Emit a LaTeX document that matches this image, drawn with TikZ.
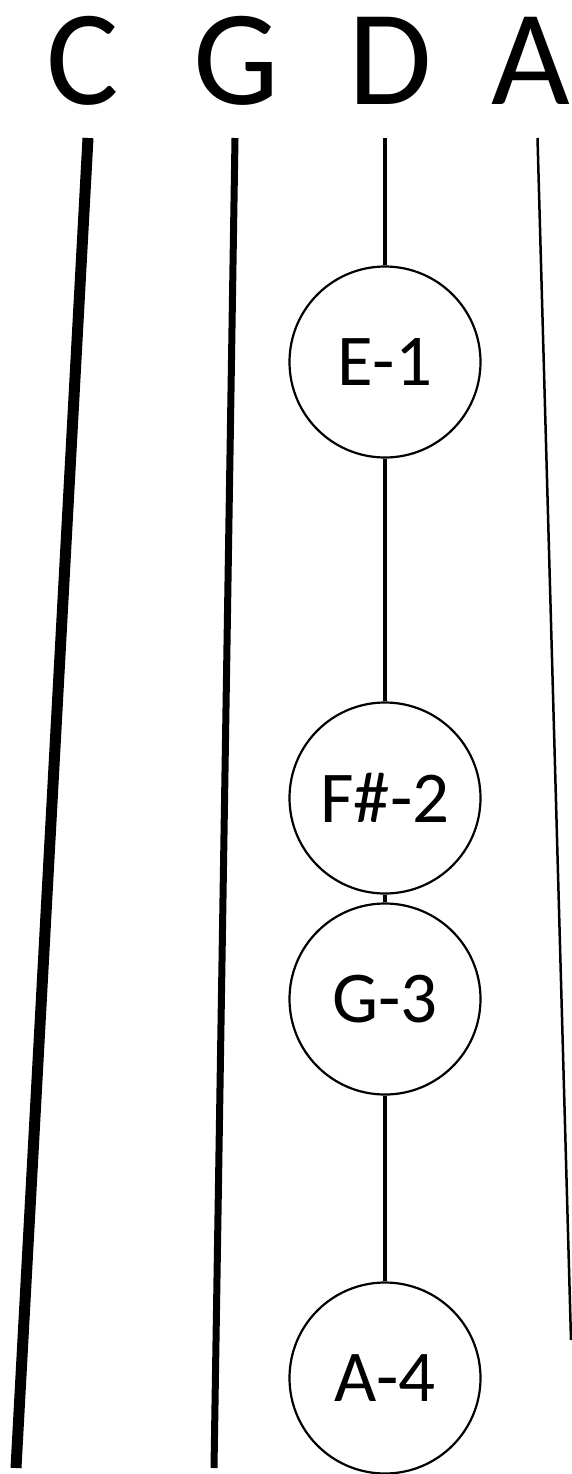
\documentclass[tikz,border=0pt]{standalone}
\usepackage{fontspec}
\setmainfont{Carlito}
\begin{document}
\begin{tikzpicture}[x=1pt,y=-1pt,
  stringname/.style={anchor=base,inner sep=0pt,font=\fontsize{136}{136}\selectfont},
  fingernote/.style={circle,draw,line width=2.2pt,fill=white,minimum size=191pt,inner sep=0pt,
    font=\fontsize{73}{73}\selectfont},
  cstring/.style={line width=11pt},
  gstring/.style={line width=7pt},
  dstring/.style={line width=3.5pt},
  astring/.style={line width=2.5pt}]
\useasboundingbox (0,0) rectangle (572,1474);
% string names
\node[stringname] (lc) at (83,105) {C};
\node[stringname] (lg) at (236,105) {G};
\node[stringname] (ld) at (390,105) {D};
\node[stringname] (la) at (531,105) {A};
% string ends
\coordinate (ctop) at (88,138);
\coordinate (cbot) at (16,1468);
\coordinate (gtop) at (235,138);
\coordinate (gbot) at (214,1468);
\coordinate (dtop) at (385,138);
\coordinate (atop) at (537.5,138);
\coordinate (abot) at (571,1340);
% notes
\node[fingernote] (e1) at (385,362) {E-1};
\node[fingernote] (f2) at (385,798) {F\#-2};
\node[fingernote] (g3) at (385,999) {G-3};
\node[fingernote] (a4) at (385,1378) {A-4};
% strings
\draw[cstring] (ctop) -- (cbot);
\draw[gstring] (gtop) -- (gbot);
\draw[astring] (atop) -- (abot);
\draw[dstring] (dtop) -- (e1);
\draw[dstring] (e1) -- (f2);
\draw[dstring] (f2) -- (g3);
\draw[dstring] (g3) -- (a4);
\end{tikzpicture}
\end{document}
